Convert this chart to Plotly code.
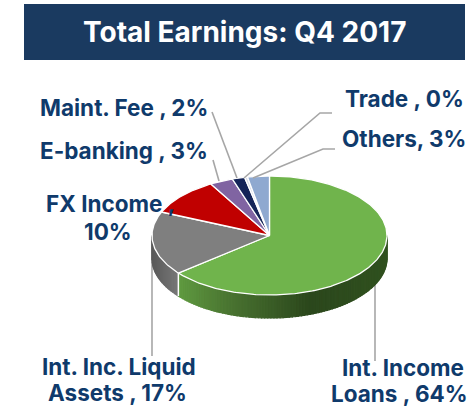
import math
import plotly.graph_objects as go

categories = ["Int. Income Loans", "Int. Inc. Liquid Assets", "FX Income", "E-banking", "Maint. Fee", "Trade", "Others"]
values = [64, 17.3, 10.2, 3.2, 1.7, 0.4, 3.0]
colors = ["#70B44C", "#7F7F7F", "#C00000", "#8064A2", "#142458", "#D9DCE8", "#8FA9D0"]
title_text = "Total Earnings: Q4 2017"

W, H = 469, 407
CX, CY, RX, RY, DEPTH = 269.5, 235.5, 117.5, 59.5, 23
NAVY, TEXT, LEADER = "#1A3A60", "#0F3A6B", "#A6A6A6"
FONT = "Inter"


def pt(deg, dy=0.0):
    a = math.radians(deg)
    return CX + RX * math.sin(a), CY - RY * math.cos(a) + dy


def hex_rgb(h):
    return [int(h[i:i + 2], 16) for i in (1, 3, 5)]


def ramp(x, stops):
    if x <= stops[0][0]:
        return stops[0][1]
    for (x0, c0), (x1, c1) in zip(stops, stops[1:]):
        if x <= x1:
            t = (x - x0) / (x1 - x0)
            a, b = hex_rgb(c0), hex_rgb(c1)
            return "#%02X%02X%02X" % tuple(round(p + (q - p) * t) for p, q in zip(a, b))
    return stops[-1][1]


fig = go.Figure()


def poly(xs, ys, fill, line=None, width=0.0):
    fig.add_trace(go.Scatter(x=xs, y=ys, mode="lines", fill="toself", fillcolor=fill,
                             line=dict(color=line or fill, width=width), hoverinfo="skip", showlegend=False))


def leader(xs, ys):
    fig.add_trace(go.Scatter(x=xs, y=ys, mode="lines", line=dict(color=LEADER, width=1.6),
                             hoverinfo="skip", showlegend=False))


# leaders that sit behind the pie body
leader([152, 152], [262, 356])
leader([375, 375], [280, 361])

total = sum(values)
edges = [0.0]
for v in values:
    edges.append(edges[-1] + v / total * 360)

# side wall: gradient strips across the front half of the first two slices
green_stops = [(178, "#5F9A40"), (235, "#47702F"), (310, "#2B471C"), (387, "#30511F")]
gray_stops = [(152, "#5A5A5A"), (178, "#787878")]
for i, stops in ((0, green_stops), (1, gray_stops)):
    a0, a1 = max(edges[i], 90), min(edges[i + 1], 270)
    n = max(1, int((a1 - a0) / 1.5))
    for k in range(n):
        s, e = a0 + (a1 - a0) * k / n, a0 + (a1 - a0) * (k + 1) / n
        xa, ya = pt(s)
        xb, yb = pt(e)
        xs = [xa, xb, xb, xa, xa]
        ys = [ya, yb, yb + DEPTH, ya + DEPTH, ya]
        poly(xs, ys, ramp((xa + xb) / 2, stops), width=1.2)
# white seam at the slice boundary on the wall
sx, sy = pt(edges[1])
fig.add_trace(go.Scatter(x=[sx, sx], y=[sy, sy + DEPTH], mode="lines", line=dict(color="white", width=1.5),
                         hoverinfo="skip", showlegend=False))

# top faces
for i, col in enumerate(colors):
    n = max(2, int((edges[i + 1] - edges[i]) / 1.0))
    arc = [pt(edges[i] + (edges[i + 1] - edges[i]) * k / n) for k in range(n + 1)]
    xs = [CX] + [p[0] for p in arc] + [CX]
    ys = [CY] + [p[1] for p in arc] + [CY]
    poly(xs, ys, col, line="#FFFFFF", width=1.3)

# upper leaders
leader([212, 237], [112, 178])
leader([213, 219], [160, 181])
leader([332, 320, 244], [113, 113, 178])
leader([335, 323, 253], [149, 149, 178])

labels = [
    ("Maint. Fee , 2%", 124, 107),
    ("E-banking , 3%", 124, 150),
    ("Trade , 0%", 404, 98),
    ("Others, 3%", 404, 138),
    ("FX Income ,", 110, 203),
    ("10%", 108, 231),
    ("Int. Inc. Liquid", 119, 366),
    ("Assets , 17%", 117, 392),
    ("Int. Income", 403, 367),
    ("Loans , 64%", 399, 393),
]
annotations = [dict(x=x, y=y, xref="x", yref="y", text=f"<b>{t}</b>", showarrow=False, xanchor="center",
                    yanchor="middle", font=dict(family=FONT, size=22.5, color=TEXT)) for t, x, y in labels]
annotations.append(dict(x=244, y=32, xref="x", yref="y", text=f"<b>{title_text}</b>", showarrow=False,
                        xanchor="center", yanchor="middle", font=dict(family=FONT, size=28, color="white")))

fig.update_layout(
    width=W, height=H, margin=dict(l=0, r=0, t=0, b=0), paper_bgcolor="white", plot_bgcolor="white",
    xaxis=dict(range=[0, W], visible=False, fixedrange=True),
    yaxis=dict(range=[H, 0], visible=False, fixedrange=True),
    shapes=[dict(type="rect", xref="x", yref="y", x0=24, x1=465, y0=4, y1=60, fillcolor=NAVY,
                 line=dict(width=0), layer="below")],
    annotations=annotations,
)
fig.write_html("out.html", config={"displayModeBar": False},
               post_script="document.documentElement.style.overflow='hidden';document.body.style.margin='0';document.body.style.overflow='hidden';")
